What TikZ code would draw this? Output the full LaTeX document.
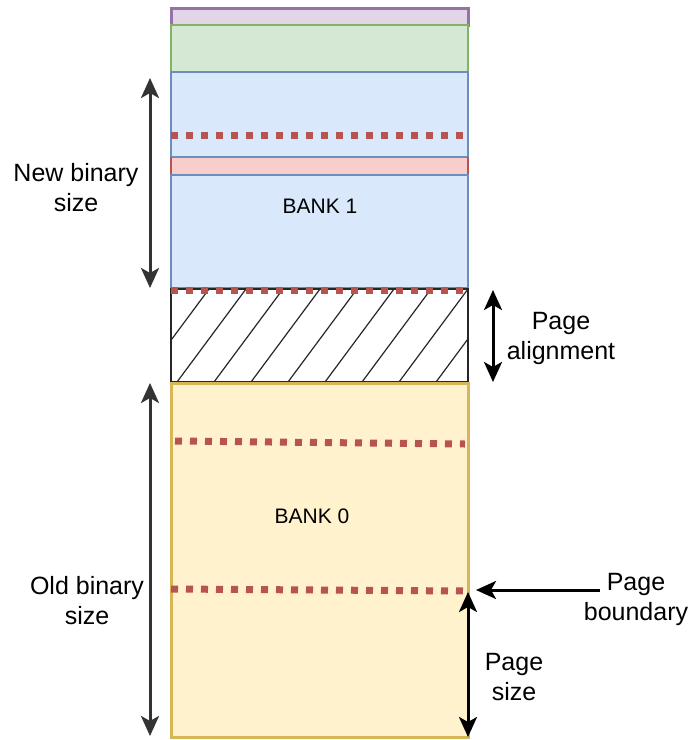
\documentclass[tikz,border=0pt]{standalone}
\usepackage{fontspec}
\setmainfont{Liberation Sans}
\usetikzlibrary{arrows.meta}

\definecolor{purplefill}{HTML}{E1D5E7}
\definecolor{purpleline}{HTML}{9673A6}
\definecolor{greenfill}{HTML}{D5E8D4}
\definecolor{greenline}{HTML}{82B366}
\definecolor{bluefill}{HTML}{DAE8FC}
\definecolor{blueline}{HTML}{6C8EBF}
\definecolor{redfill}{HTML}{F8CECC}
\definecolor{redline}{HTML}{B85450}
\definecolor{yellowfill}{HTML}{FFF2CC}
\definecolor{yellowline}{HTML}{D6B656}
\definecolor{arrowgray}{HTML}{333333}

\begin{document}
\begin{tikzpicture}[x=1pt,y=-1pt]
\def\colL{171}
\def\colR{468}
\def\labelfontsize{\fontsize{25}{30}\selectfont}

\tikzset{
  dots/.style={draw=redline, line width=7pt, dash pattern=on 7pt off 8pt},
  sizearrow/.style={{Stealth[length=20pt,width=18pt,inset=5pt]}-{Stealth[length=20pt,width=18pt,inset=5pt]}, line width=3pt},
  pointarrow/.style={-{Stealth[length=20pt,width=18pt,inset=5pt]}, line width=3pt},
  sizelabel/.style={align=center, inner sep=0pt, font=\labelfontsize},
  banklabel/.style={inner sep=0pt, font=\fontsize{21}{25}\selectfont},
}

\useasboundingbox (0,0) rectangle (693,740);

\begin{scope} % BANK 1
\draw[yellowline, line width=1pt] (\colL,72) rectangle (\colR,288);
\draw[fill=purplefill, draw=purpleline, line width=3pt] (\colL,8) rectangle (\colR,25);
\draw[fill=greenfill, draw=greenline, line width=1.5pt] (\colL,25) rectangle (\colR,72);
\draw[fill=bluefill, draw=blueline, line width=1.5pt] (\colL,72) rectangle (\colR,157);
\draw[fill=redfill, draw=blueline, line width=1.5pt] (\colL,157) rectangle (\colR,175);
\draw[redline, line width=1.5pt] (\colL,157) -- (\colL,175) (\colR,157) -- (\colR,175);
\draw[fill=bluefill, draw=blueline, line width=1.5pt] (\colL,175) rectangle (\colR,288);

\draw[dots] (\colL,135) -- (\colR,135);

\node[banklabel] (bank1) at (320,206) {BANK 1};
\end{scope}

\begin{scope} % PAGE ALIGNMENT PADDING
\begin{scope}
\clip (\colL,289) rectangle (\colR,382);
\foreach \k in {-2,...,8}
  \draw[line width=1.2pt, black!85] ({177+37*\k},382) -- ({246+37*\k},289);
\end{scope}
\draw[black!85, line width=1.5pt] (\colL,289) rectangle (\colR,382);
\draw[dots] (\colL,290) -- (\colR,290);
\end{scope}

\begin{scope} % BANK 0
\draw[fill=yellowfill, draw=yellowline, line width=3pt] (\colL,383) rectangle (\colR,737);

\draw[dots] (175,441) -- (465,444);
\draw[dots] (\colL,589) -- (465,591);

\node[banklabel] (bank0) at (312,516) {BANK 0};
\end{scope}

% size arrows
\coordinate (newtop) at (150,78);
\coordinate (newbot) at (150,288);
\coordinate (oldtop) at (150,383);
\coordinate (oldbot) at (150,736);
\coordinate (aligntop) at (493,290);
\coordinate (alignbot) at (493,382);
\coordinate (pagetop) at (468,592);
\coordinate (pagebot) at (468,737);
\coordinate (boundstart) at (600,590);
\coordinate (boundend) at (476,590);

\draw[sizearrow, arrowgray] (newtop) -- (newbot);
\draw[sizearrow, arrowgray] (oldtop) -- (oldbot);
\draw[sizearrow] (aligntop) -- (alignbot);
\draw[sizearrow] (pagetop) -- (pagebot);
\draw[pointarrow] (boundstart) -- (boundend);

\node[sizelabel] (newlabel) at (76,188) {New binary\\size};
\node[sizelabel] (oldlabel) at (87,601) {Old binary\\size};
\node[sizelabel] (alignlabel) at (561,338) {Page\\alignment};
\node[sizelabel] (boundlabel) at (636,599) {Page\\boundary};
\node[sizelabel] (pagelabel) at (514,677) {Page\\size};

\end{tikzpicture}
\end{document}
